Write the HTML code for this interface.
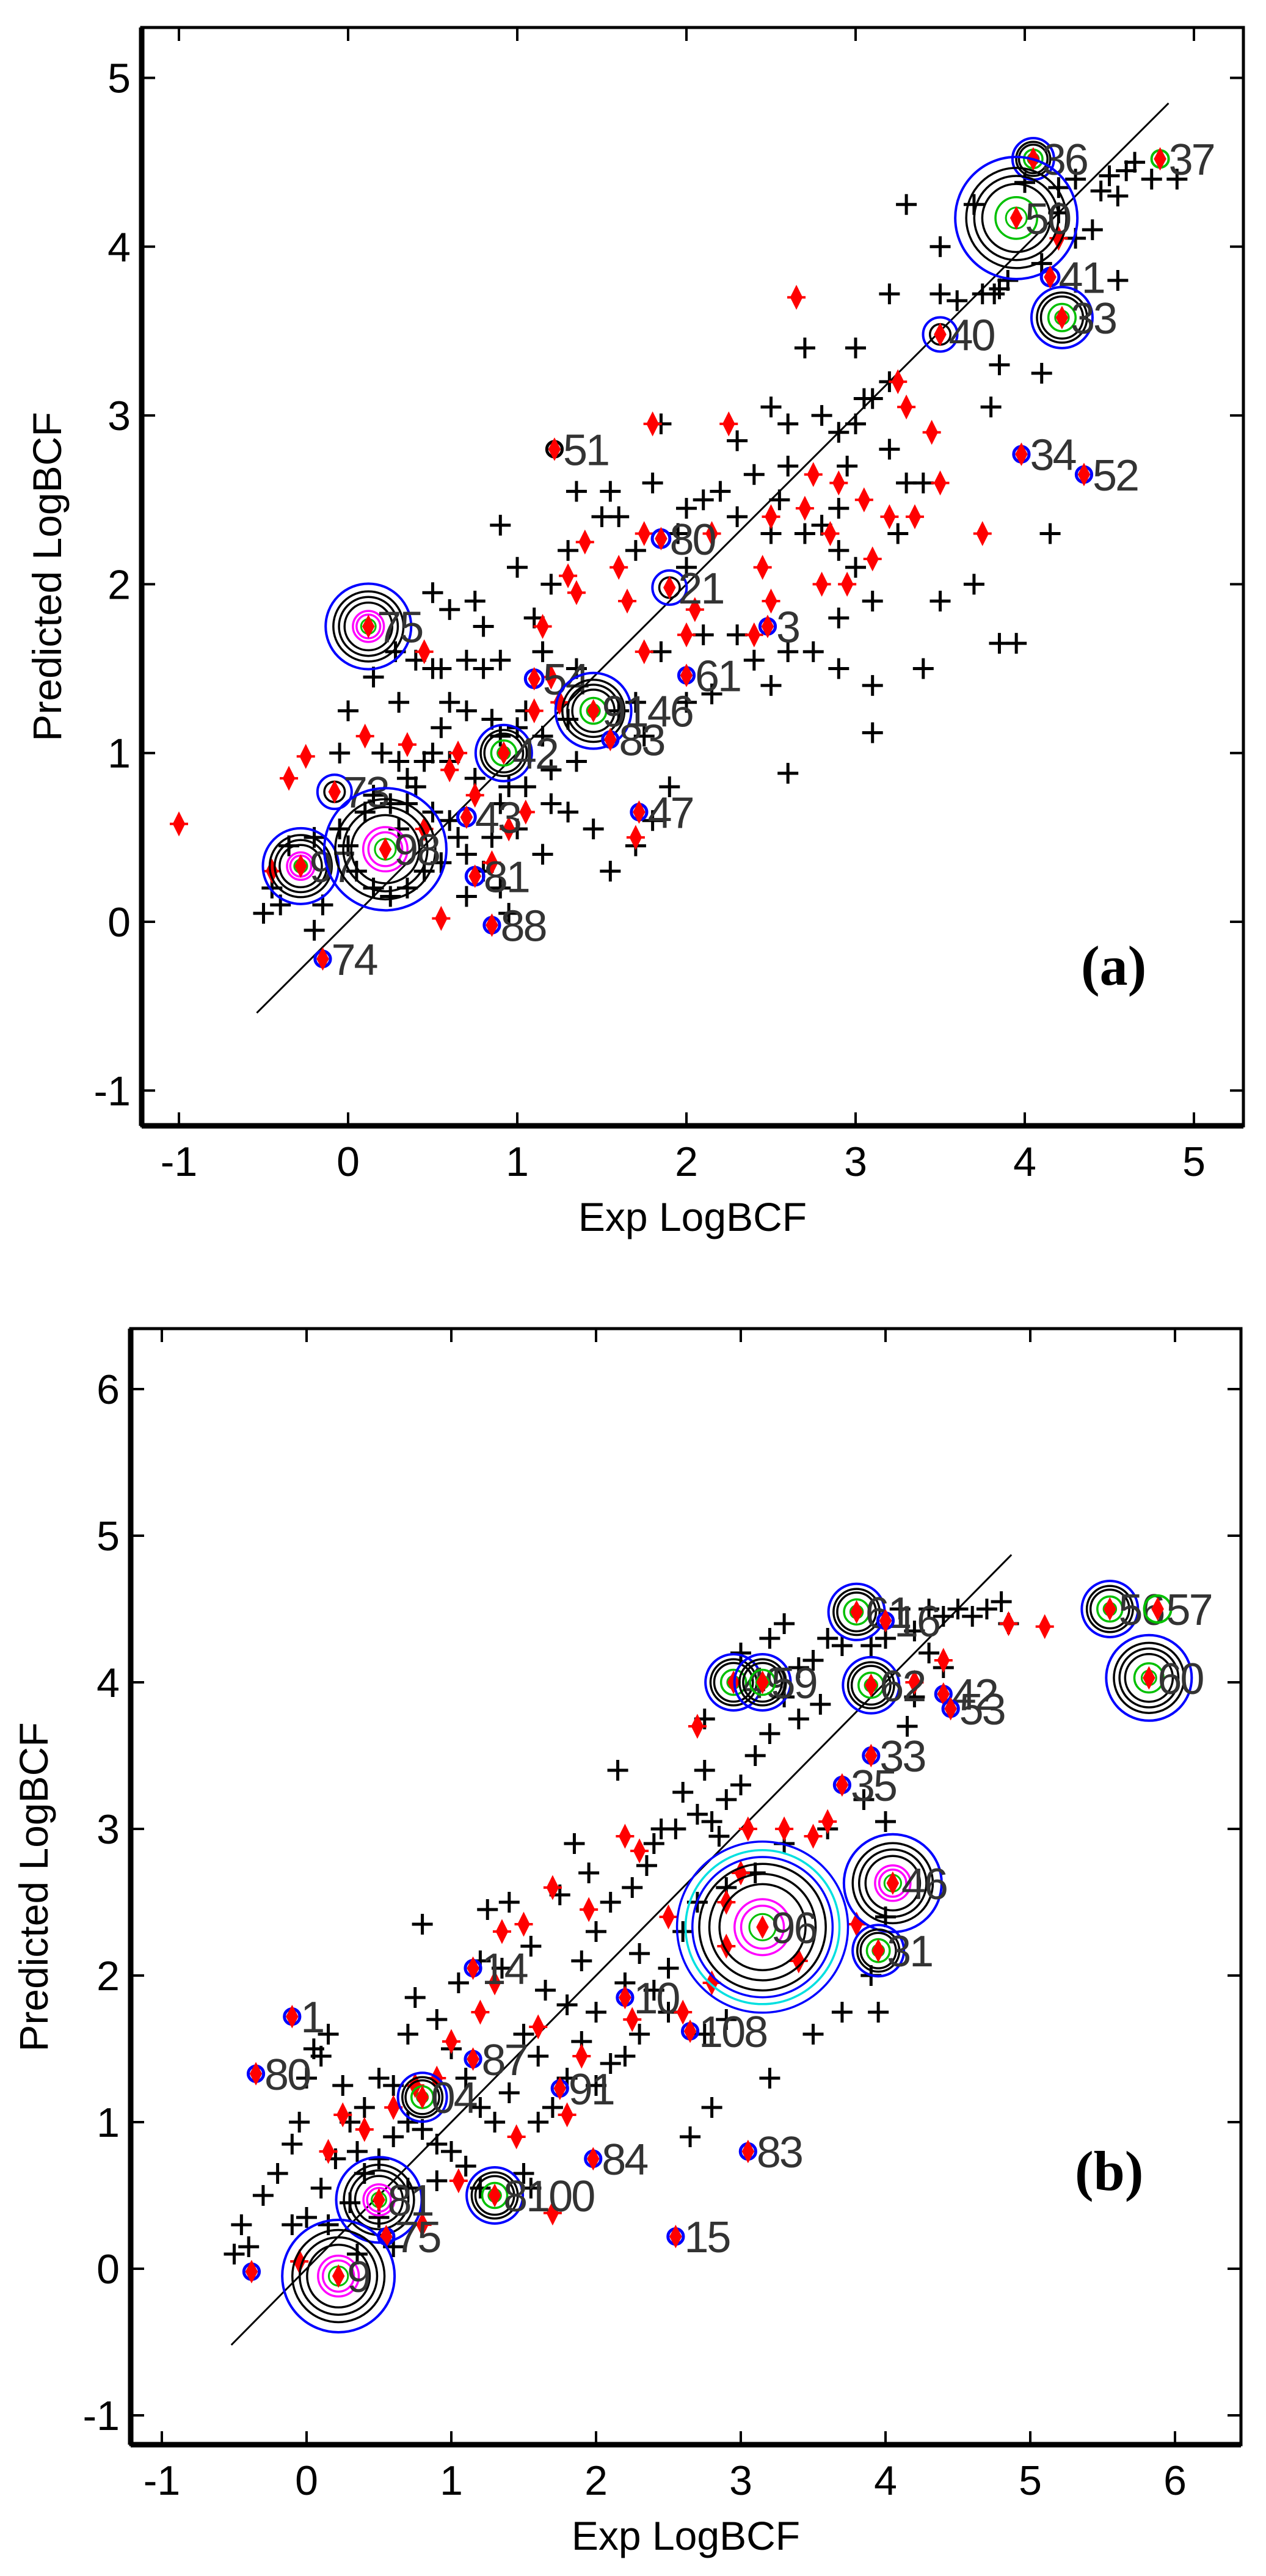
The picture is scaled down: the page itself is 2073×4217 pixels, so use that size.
<!DOCTYPE html>
<html><head><meta charset="utf-8"><title>Exp vs Predicted LogBCF</title>
<style>
html,body{margin:0;padding:0;background:#fff;}
svg{display:block;}
</style></head>
<body>
<svg id="fig" width="2073" height="4217" viewBox="0 0 2073 4217" xmlns="http://www.w3.org/2000/svg" font-family="Liberation Sans, Arial, sans-serif"></svg>
<script>
// ===== Panel (a) data =====
const aXTicks = [-1,0,1,2,3,4,5];
const aYTicks = [-1,0,1,2,3,4,5];
const aBlackX = [4.0,3.7,3.5,4.2,4.3,4.5,4.45,4.55,4.75,4.6,4.65,4.9,4.2,4.3,4.4,4.55,4.1,3.2,3.5,3.6,3.75,3.82,3.85,3.85,3.8,4.1,3.0,2.8,2.9,2.95,3.0,3.05,3.1,3.2,3.2,2.6,2.5,2.6,2.3,2.4,2.2,2.1,2.0,1.85,1.8,1.95,2.3,2.5,2.55,2.7,2.8,2.9,3.0,3.3,3.4,3.25,3.7,2.0,2.9,1.6,1.7,1.5,1.55,1.35,1.3,1.2,1.0,0.9,1.1,0.6,0.5,0.75,0.8,0.4,0.5,0.55,0.28,0.15,0.3,0.7,0.8,0.9,1.15,0.55,0.6,0.7,0.85,0.9,1.0,1.05,1.15,1.3,1.35,1.6,1.7,1.75,1.85,2.1,2.4,2.6,2.75,2.9,3.1,2.3,2.9,3.1,3.4,3.5,2.5,2.0,2.15,3.85,3.95,4.15,3.1,2.6,1.9,1.8,1.7,1.55,1.45,1.3,1.2,1.15,1.05,0.95,0.9,0.75,0.6,0.5,0.45,0.4,0.35,0.35,0.3,0.5,0.6,0.65,0.55,0.45,0.35,0.25,0.15,0.05,0.0,-0.05,0.1,0.15,0.25,0.3,0.2,0.0,-0.05,-0.2,-0.35,-0.45,-0.5,-0.4,-0.2,-0.15,0.8,0.9,0.95,0.7,1.0,0.85,0.7,1.2,1.35,2.7,3.3,3.9];
const aBlackY = [4.38,4.25,4.0,4.35,4.4,4.42,4.33,4.3,4.4,4.45,4.5,4.4,4.2,4.05,4.1,3.8,3.9,3.72,3.72,3.68,3.72,3.72,3.75,3.3,3.05,3.25,3.4,3.0,2.9,2.7,2.95,3.1,3.1,3.2,2.8,2.95,3.05,2.7,2.85,2.65,2.55,2.5,2.45,2.95,2.6,2.3,2.4,2.3,2.5,2.3,2.35,2.45,2.1,2.6,2.6,2.3,2.0,2.1,2.2,2.4,2.2,2.4,2.55,2.55,2.2,2.0,2.1,2.35,1.8,1.85,1.95,1.9,1.75,1.55,1.5,1.5,1.6,1.45,1.3,1.55,1.5,1.55,1.6,1.15,1.3,1.25,1.2,1.1,1.15,1.25,1.1,1.2,1.5,1.25,1.3,1.1,1.6,1.7,1.55,1.6,1.6,1.8,1.9,1.7,1.5,1.4,1.5,1.9,1.4,1.3,1.35,1.65,1.65,2.3,1.12,0.88,0.8,0.6,0.45,0.3,0.55,0.65,0.7,0.4,0.8,0.8,0.7,0.85,0.95,1.0,0.95,0.8,0.85,0.7,0.55,0.65,0.6,0.5,0.35,0.3,0.2,0.15,0.2,0.3,0.45,0.55,0.65,0.75,0.7,0.95,1.0,1.25,1.0,0.5,0.45,0.2,0.05,0.1,-0.05,0.1,0.3,0.2,0.05,0.15,0.55,0.5,0.4,0.9,0.95,3.4,4.25,3.8];
const aRedX = [-1.0,-0.35,-0.25,-0.45,0.1,0.35,0.45,0.6,0.65,0.75,0.85,0.55,0.45,0.95,1.05,1.1,1.2,1.25,1.15,1.3,1.35,1.4,1.6,1.65,1.75,1.8,1.7,1.75,2.0,2.05,2.15,2.25,2.4,2.45,2.5,2.5,2.65,2.7,2.75,2.8,2.85,2.9,2.95,3.05,3.1,3.2,3.25,3.3,3.35,3.5,3.45,3.75,4.2];
const aRedY = [0.58,0.85,0.98,0.3,1.1,1.05,1.6,0.9,1.0,0.75,0.35,0.02,0.55,0.55,0.65,1.25,1.45,1.3,1.75,2.05,1.95,2.25,2.1,1.9,2.3,2.95,0.5,1.6,1.7,1.85,2.3,2.95,1.7,2.1,2.4,1.9,3.7,2.45,2.65,2.0,2.3,2.6,2.0,2.5,2.15,2.4,3.2,3.05,2.4,2.6,2.9,2.3,4.05];
const aLabX = [4.05,4.8,3.95,4.15,4.22,3.5,3.98,4.35,1.22,1.85,1.9,2.48,0.12,2.0,1.1,1.45,1.55,0.92,-0.08,1.72,0.7,-0.28,0.22,0.75,0.85,-0.15];
const aLabY = [4.52,4.52,4.17,3.82,3.58,3.48,2.77,2.65,2.8,2.27,1.98,1.75,1.75,1.46,1.44,1.25,1.08,1.0,0.77,0.65,0.62,0.33,0.43,0.27,-0.02,-0.22];
const aLabText = ["36","37","50","41","33","40","34","52","51","80","21","3","75","61","54","9146","83","42","73","47","43","97","98","81","88","74"];
const aRingR = [34,14,100,16,50,28,14,14,14,16,28,14,70,14,16,62,14,46,28,14,16,62,100,16,14,14];
const aRingK = ["bg","g","bg","s","bg","b","s","s","k","s","b","s","bmg","s","s","bg","s","bg","b","s","s","bmg","bmg","s","s","s"];

// ===== Panel (b) data =====
const bXTicks = [-1,0,1,2,3,4,5,6];
const bYTicks = [-1,0,1,2,3,4,5,6];
const bBlackX = [-0.5,-0.45,-0.4,-0.3,-0.2,-0.1,-0.05,0.0,0.05,0.1,0.15,0.25,0.3,0.35,0.2,0.1,0.0,-0.1,0.15,0.3,0.4,0.5,0.6,0.7,0.8,0.9,1.0,0.4,0.5,0.6,0.7,0.75,0.8,0.9,1.0,1.1,1.2,1.3,1.4,1.5,1.6,1.65,1.55,1.4,1.35,1.25,1.2,1.05,1.8,1.9,2.0,2.1,2.15,1.95,1.85,1.75,2.25,2.35,2.4,2.45,2.55,2.6,2.7,2.75,2.8,2.85,2.9,3.0,3.1,3.2,3.3,3.4,3.5,3.6,3.7,3.55,3.3,3.2,3.0,2.75,3.4,3.9,4.0,4.1,4.2,4.3,4.4,4.5,4.6,4.7,4.8,4.85,4.3,4.4,4.2,4.15,3.85,4.0,3.6,3.3,3.1,2.9,2.7,2.6,2.5,2.4,2.3,2.2,2.0,1.9,1.8,1.7,1.6,2.0,2.1,2.3,2.5,2.75,2.9,2.65,2.8,3.2,3.5,3.7,3.9,4.0,3.95,2.2,0.5,0.7,0.9,1.1,0.6,0.35,1.2,1.5,1.55];
const bBlackY = [0.1,0.3,0.15,0.5,0.65,0.85,1.0,1.3,1.5,1.45,1.6,1.25,1.0,0.8,0.75,0.55,0.35,0.3,0.3,0.45,0.65,0.75,0.9,1.0,0.95,0.85,0.8,1.1,1.3,1.25,1.6,1.85,2.35,1.7,1.5,1.3,1.1,1.0,1.2,1.6,1.45,1.9,2.2,2.5,2.05,2.45,2.1,1.95,1.8,2.1,2.3,2.5,3.4,2.7,2.9,2.55,2.6,2.75,2.9,3.0,3.0,3.25,3.1,3.4,3.05,2.95,3.2,3.3,3.5,3.65,3.9,4.1,4.15,4.3,4.25,3.85,4.4,4.3,4.2,3.75,3.75,4.25,4.3,4.5,4.35,4.5,4.45,4.5,4.45,4.5,4.55,4.4,4.2,4.1,3.9,3.7,3.2,3.05,3.0,2.9,2.7,2.6,2.5,2.3,2.05,1.9,2.15,1.95,1.75,1.55,1.3,1.1,1.0,1.25,1.4,1.6,1.75,1.6,1.7,0.9,1.1,1.3,1.6,1.75,2.0,2.4,1.75,1.45,0.35,0.55,0.6,0.7,0.15,0.1,0.55,0.65,0.55];
const bRedX = [-0.05,0.15,0.25,0.4,0.6,0.75,0.9,1.0,1.2,1.3,1.35,1.5,1.6,1.7,1.9,1.95,2.2,2.25,2.3,2.5,2.6,2.8,2.9,2.9,3.0,3.05,3.3,3.5,3.6,3.8,2.7,1.7,1.05,0.8,4.85,5.1,4.2,4.4,3.4,1.45,1.8];
const bRedY = [0.05,0.8,1.05,0.95,1.1,1.25,1.3,1.55,1.75,1.95,2.3,2.35,1.65,2.6,1.45,2.45,2.95,1.7,2.85,2.4,1.75,1.95,2.2,2.5,2.7,3.0,3.0,2.95,3.05,2.35,3.7,0.38,0.6,0.3,4.4,4.38,4.0,4.15,2.1,0.9,1.05];
const bLabX = [3.8,4.0,5.55,5.88,5.82,2.95,3.15,3.9,4.4,4.45,3.9,3.7,4.05,3.15,3.95,1.15,-0.1,2.2,2.65,1.15,-0.35,1.75,0.8,1.98,3.05,1.3,0.5,0.55,0.22,2.55,-0.38];
const bLabY = [4.48,4.42,4.5,4.5,4.03,4.0,4.0,3.98,3.92,3.82,3.5,3.3,2.63,2.33,2.17,2.05,1.72,1.85,1.62,1.43,1.33,1.23,1.17,0.75,0.8,0.5,0.47,0.22,-0.05,0.22,-0.02];
const bLabText = ["61","16","56","57","60","49","59","62","42","53","33","35","46","96","31","14","1","10","108","87","80","91","04","84","83","8100","81","75","9","15",""];
const bRingR = [46,14,46,22,70,46,46,46,14,14,14,14,80,140,42,14,14,14,14,14,14,14,40,14,14,46,70,14,92,14,14];
const bRingK = ["bg","s","bg","g","bg","bg","bg","bg","s","s","s","s","bmg","bcm","bg","s","s","s","s","s","s","s","bg","s","s","bg","bmg","s","bmg","s","s"];

const NS = "http://www.w3.org/2000/svg";
const svg = document.getElementById('fig');
function mk(tag, attrs, parent){
  const e = document.createElementNS(NS, tag);
  for (const k in attrs) e.setAttribute(k, attrs[k]);
  (parent||svg).appendChild(e);
  return e;
}

function drawPanel(p){
  const g = mk('g', {});
  
  
  const sx = v => p.x0 + (v - p.xr0) * p.kx;
  const sy = v => p.y0 - (v - p.yr0) * p.ky;
  const frame = mk('rect', {x:p.L, y:p.T, width:p.R-p.L, height:p.B-p.T, fill:'#fff', stroke:'#000', 'stroke-width':5}, g);
  
  
  p.xt.forEach(t => {
    const X = sx(t);
    mk('line', {x1:X, y1:p.B, x2:X, y2:p.B-22, stroke:'#000', 'stroke-width':4}, g);
    mk('line', {x1:X, y1:p.T, x2:X, y2:p.T+22, stroke:'#000', 'stroke-width':4}, g);
    const tx = mk('text', {x:X, y:p.B+82, 'font-size':68, 'text-anchor':'middle', fill:'#000'}, g);
    tx.textContent = t;
    
    
  });
  p.yt.forEach(t => {
    const Y = sy(t);
    mk('line', {x1:p.L, y1:Y, x2:p.L+22, y2:Y, stroke:'#000', 'stroke-width':4}, g);
    mk('line', {x1:p.R, y1:Y, x2:p.R-22, y2:Y, stroke:'#000', 'stroke-width':4}, g);
    const ty = mk('text', {x:p.L-18, y:Y+24, 'font-size':68, 'text-anchor':'end', fill:'#000'}, g);
    ty.textContent = t;
    
    
  });
  const xl = mk('text', {x:(p.L+p.R)/2, y:p.B+172, 'font-size':66, 'text-anchor':'middle', fill:'#000'}, g);
  xl.textContent = 'Exp LogBCF';
  
  
  const yl = mk('text', {x:0, y:0, 'font-size':66, 'text-anchor':'middle', fill:'#000', transform:`translate(${p.ylx},${p.yly}) rotate(-90)`}, g);
  yl.textContent = 'Predicted LogBCF';
  
  
  const dl = mk('line', {x1:sx(p.d0), y1:sy(p.d0), x2:sx(p.d1), y2:sy(p.d1), stroke:'#000', 'stroke-width':3}, g);
  
  
  for (let i=0;i<p.bx.length;i++){
    const X = sx(p.bx[i]), Y = sy(p.by[i]);
    const pl = mk('path', {d:`M${X-17},${Y}H${X+17}M${X},${Y-17}V${Y+17}`, stroke:'#000', 'stroke-width':5}, g);
    
    
  }
  for (let i=0;i<p.rx.length;i++){
    const X = sx(p.rx[i]), Y = sy(p.ry[i]);
    const rp = mk('path', {d:`M${X},${Y-16}L${X+8},${Y}L${X},${Y+16}L${X-8},${Y}Z M${X-15},${Y}H${X+15}`, fill:'#f00', stroke:'#f00', 'stroke-width':4}, g);
    
    
  }
  for (let i=0;i<p.lx.length;i++){
    const X = sx(p.lx[i]), Y = sy(p.ly[i]);
    const R = p.rr[i], k = p.rk[i];
    const cg = mk('g', {}, g);
    
    
    const ring = (r, col, w) => mk('circle', {cx:X, cy:Y, r:r, fill:'none', stroke:col, 'stroke-width':w||3.5}, cg);
    if (k === 's') { ring(R*0.9, '#0000ff', 5); }
    else if (k === 'k') { ring(R*0.9, '#000', 5); }
    else if (k === 'g') { ring(R, '#00c000', 4); }
    else if (k === 'b') { ring(R, '#0000ff', 4); ring(R*0.6, '#000'); }
    else {
      let outer;
      const n = R > 60 ? 3 : 2;
      if (k === 'bcm') { ring(R, '#0000ff'); ring(R*0.9,'#00e0e0'); ring(R*0.82,'#0000ff'); outer = R*0.74; }
      else { ring(R, '#0000ff', 4); outer = R*0.82; }
      for (let j=0;j<n;j++) ring(outer*(1 - j*0.16), '#000');
      const inner = outer*(1 - n*0.16);
      if (k === 'bmg' || k === 'bcm') { ring(inner*0.85, '#ff00ff'); if (R>60) ring(inner*0.65,'#ff00ff'); }
      else { ring(inner*0.8, '#00c000'); }
      ring(Math.max(inner*0.4, 9), '#00c000', 3);
    }
    mk('path', {d:`M${X},${Y-15}L${X+8},${Y}L${X},${Y+15}L${X-8},${Y}Z`, fill:'#f00', stroke:'#f00', 'stroke-width':4}, cg);
    if (p.lt[i]) {
      const lt = mk('text', {x:X+14, y:Y+26, 'font-size':72, fill:'#333', 'letter-spacing':'-3'}, cg);
      lt.textContent = p.lt[i];
      
      
    }
  }
  const tag = mk('text', {x:p.tagX, y:p.tagY, 'font-size':92, 'font-weight':'bold', 'font-family':'Liberation Serif, serif', fill:'#000'}, g);
  tag.textContent = p.tag;
  
  
  mk('rect', {x:p.L, y:p.T, width:p.R-p.L, height:p.B-p.T, fill:'none', stroke:'#000', 'stroke-width':5}, g);
  mk('line', {x1:p.L, y1:p.T, x2:p.L, y2:p.B, stroke:'#000', 'stroke-width':9}, g);
  mk('line', {x1:p.L, y1:p.B, x2:p.R, y2:p.B, stroke:'#000', 'stroke-width':9}, g);
}

drawPanel({name:'panel-a', L:232, R:2036, T:45, B:1843, x0:570, xr0:0, kx:277, y0:1509, yr0:0, ky:276.3,
  xt:aXTicks, yt:aYTicks, bx:aBlackX, by:aBlackY, rx:aRedX, ry:aRedY, lx:aLabX, ly:aLabY, lt:aLabText, rr:aRingR, rk:aRingK,
  d0:-0.54, d1:4.85, ylx:100, yly:944, tag:'(a)', tagX:1770, tagY:1612});
drawPanel({name:'panel-b', L:214, R:2032, T:2175, B:4002, x0:502, xr0:0, kx:237, y0:3714, yr0:0, ky:240,
  xt:bXTicks, yt:bYTicks, bx:bBlackX, by:bBlackY, rx:bRedX, ry:bRedY, lx:bLabX, ly:bLabY, lt:bLabText, rr:bRingR, rk:bRingK,
  d0:-0.52, d1:4.87, ylx:78, yly:3089, tag:'(b)', tagX:1760, tagY:3585});
</script>
</body></html>
